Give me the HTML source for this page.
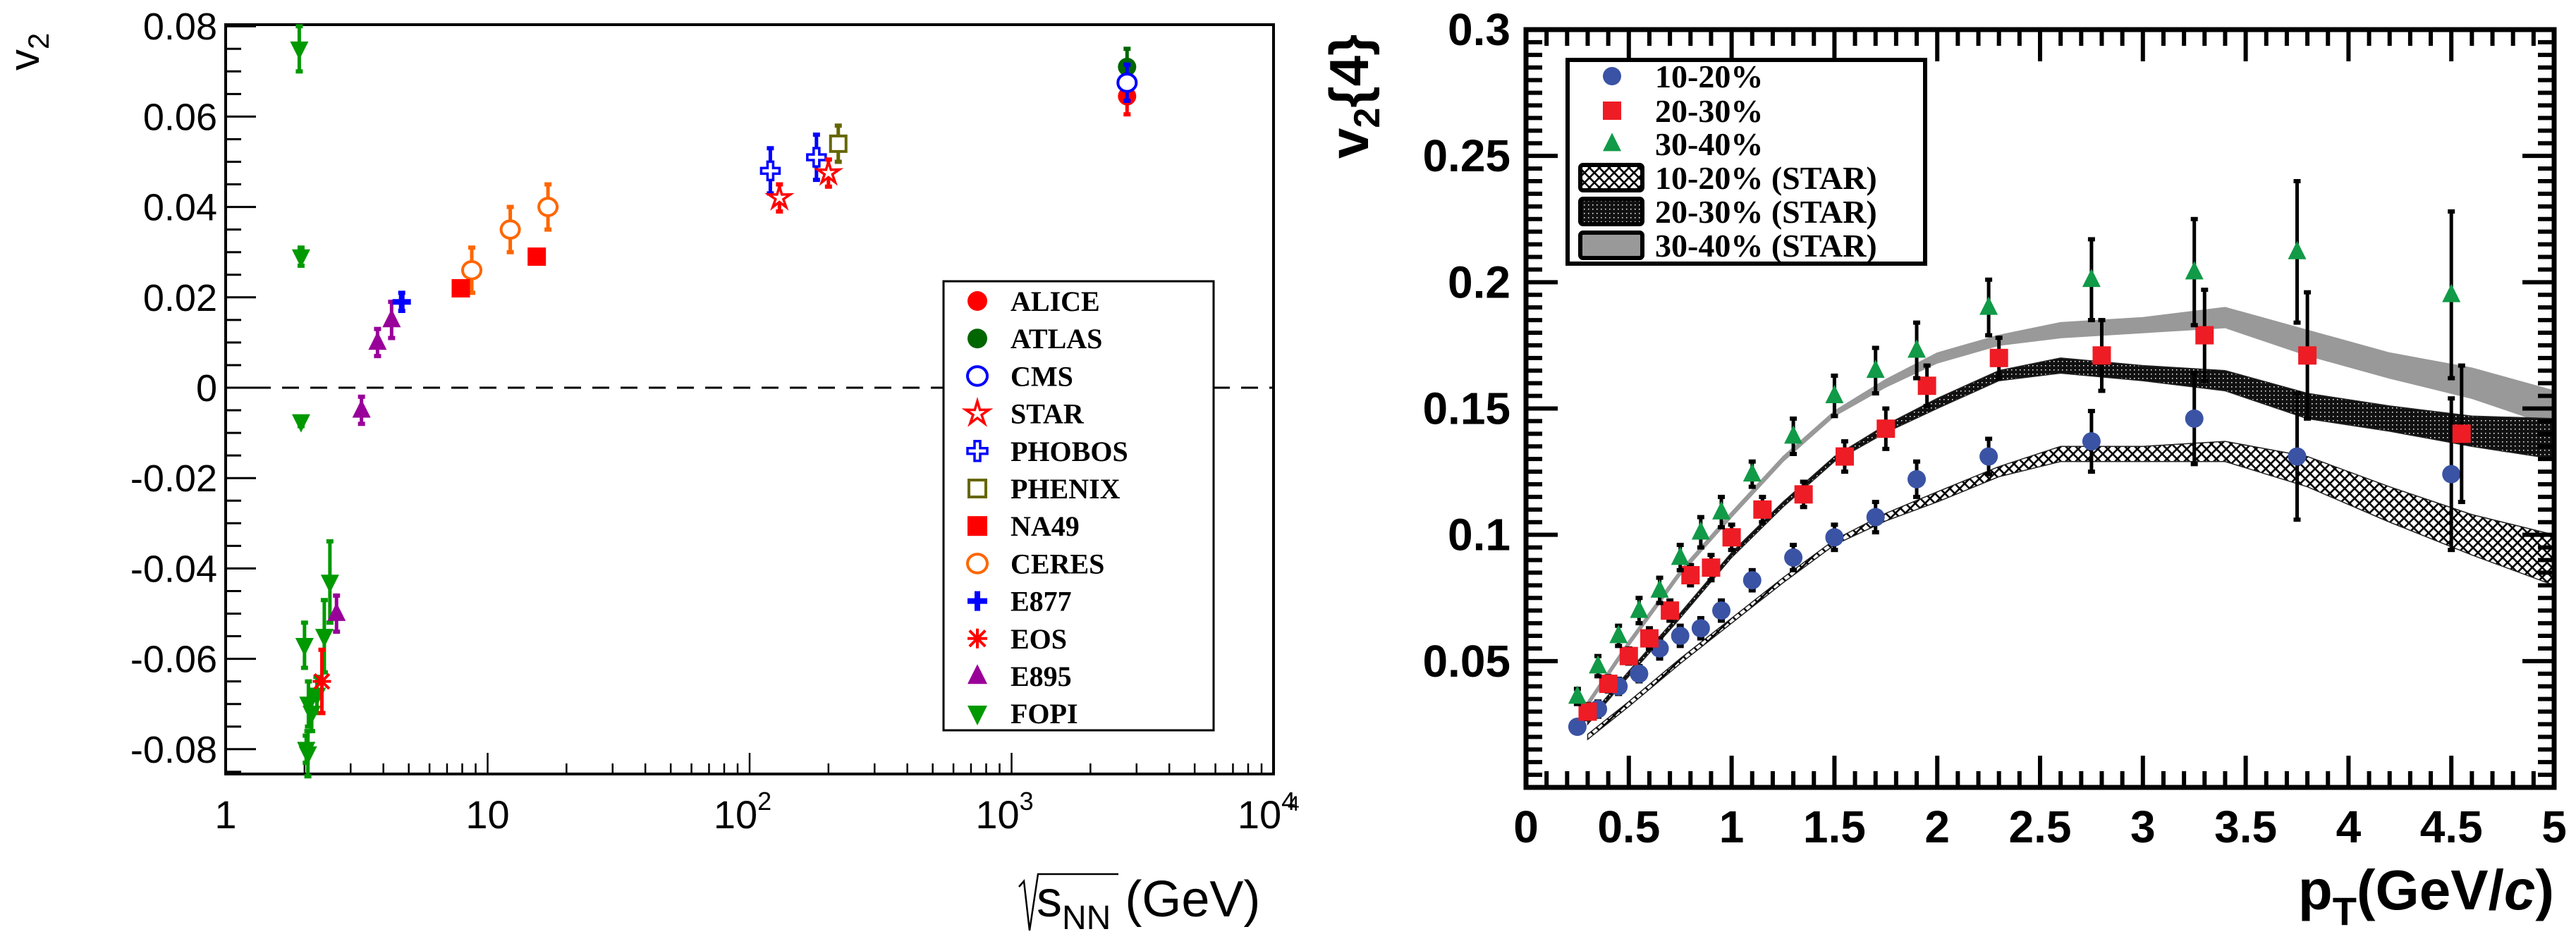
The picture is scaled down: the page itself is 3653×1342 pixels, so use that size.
<!DOCTYPE html>
<html><head><meta charset="utf-8">
<style>
html,body{margin:0;padding:0;background:#fff;}
svg{display:block;}
text{font-family:"Liberation Sans",sans-serif;}
.serif{font-family:"Liberation Serif",serif;font-weight:bold;}
</style></head>
<body>
<svg id="svg" width="3653" height="1342" viewBox="0 0 3653 1342" xmlns="http://www.w3.org/2000/svg">
<defs>
<pattern id="hatchA" width="14" height="14" patternUnits="userSpaceOnUse">
<path d="M0 0 L14 14 M14 0 L0 14" stroke="#000" stroke-width="2.6"/>
</pattern>
<pattern id="hatchB" width="6" height="6" patternUnits="userSpaceOnUse">
<rect width="6" height="6" fill="#111"/><rect x="2" y="2" width="1.5" height="1.5" fill="#fff"/>
</pattern>
</defs>
<g id="left"></g>
<g id="right"></g>
</svg>
<script>
// ---------- Left chart data ----------
const aliceX=[2760], aliceY=[0.0645], aliceE=[0.004];
const atlasX=[2760], atlasY=[0.071], atlasE=[0.004];
const cmsX=[2760], cmsY=[0.0675], cmsE=[0.004];
const starX=[130,200], starY=[0.042,0.0475], starE=[0.003,0.003];
const phobosX=[120,180], phobosY=[0.048,0.051], phobosE=[0.005,0.005];
const phenixX=[218], phenixY=[0.054], phenixE=[0.004];
const na49X=[7.9,15.4], na49Y=[0.022,0.029], na49E=[0.001,0.001];
const ceresX=[8.7,12.2,17.0], ceresY=[0.026,0.035,0.040], ceresE=[0.005,0.005,0.005];
const e877X=[4.7], e877Y=[0.019], e877E=[0.002];
const eosX=[2.33], eosY=[-0.065], eosE=[0.007];
const e895X=[3.8,4.3,3.3,2.65], e895Y=[0.010,0.015,-0.005,-0.050], e895E=[0.003,0.004,0.003,0.004];
const fopiX=[1.91,1.94,1.94,2.0,2.07,2.13,2.23,2.38,2.5,2.06,2.03], fopiY=[0.075,0.029,-0.0075,-0.057,-0.07,-0.072,-0.068,-0.055,-0.043,-0.081,-0.08], fopiE=[0.005,0.002,0.001,0.005,0.005,0.004,0.004,0.008,0.009,0.005,0.003];
const leftYTicks=[0.08,0.06,0.04,0.02,0,-0.02,-0.04,-0.06,-0.08];
const leftYLabels=["0.08","0.06","0.04","0.02","0","-0.02","-0.04","-0.06","-0.08"];
const leftXDecades=[0,1,2,3,4];

// ---------- Right chart data ----------
const c1X=[0.25,0.35,0.45,0.55,0.65,0.75,0.85,0.95,1.1,1.3,1.5,1.7,1.9,2.25,2.75,3.25,3.75,4.5];
const c1Y=[0.024,0.031,0.040,0.045,0.055,0.060,0.063,0.070,0.082,0.091,0.099,0.107,0.122,0.131,0.137,0.146,0.131,0.124];
const c1E=[0.002,0.003,0.003,0.003,0.004,0.004,0.004,0.004,0.004,0.005,0.005,0.006,0.007,0.007,0.012,0.018,0.025,0.030];
const c2X=[0.3,0.4,0.5,0.6,0.7,0.8,0.9,1.0,1.15,1.35,1.55,1.75,1.95,2.3,2.8,3.3,3.8,4.55];
const c2Y=[0.030,0.041,0.052,0.059,0.070,0.084,0.087,0.099,0.110,0.116,0.131,0.142,0.159,0.170,0.171,0.179,0.171,0.140];
const c2E=[0.003,0.003,0.003,0.004,0.004,0.004,0.005,0.005,0.005,0.005,0.006,0.008,0.008,0.008,0.014,0.018,0.025,0.027];
const c3X=[0.25,0.35,0.45,0.55,0.65,0.75,0.85,0.95,1.1,1.3,1.5,1.7,1.9,2.25,2.75,3.25,3.75,4.5];
const c3Y=[0.036,0.048,0.060,0.070,0.078,0.091,0.101,0.109,0.124,0.139,0.155,0.165,0.173,0.190,0.201,0.204,0.212,0.195];
const c3E=[0.003,0.004,0.004,0.005,0.005,0.005,0.006,0.006,0.005,0.007,0.008,0.009,0.011,0.011,0.016,0.021,0.028,0.033];
const bandX=[0.3,0.5,0.75,1.0,1.25,1.5,1.75,2.0,2.3,2.6,3.0,3.4,3.8,4.2,4.6,5.0];
const band3Y=[0.033,0.057,0.085,0.108,0.130,0.148,0.160,0.170,0.177,0.181,0.183,0.186,0.176,0.167,0.160,0.150];
const band3W=[0.001,0.001,0.001,0.001,0.001,0.001,0.0015,0.002,0.002,0.003,0.003,0.004,0.005,0.005,0.006,0.007];
const band2Y=[0.026,0.045,0.068,0.092,0.112,0.130,0.142,0.152,0.163,0.167,0.164,0.161,0.151,0.146,0.141,0.138];
const band2W=[0.001,0.001,0.001,0.001,0.001,0.001,0.0015,0.002,0.002,0.003,0.003,0.004,0.005,0.005,0.006,0.008];
const band1Y=[0.020,0.033,0.050,0.066,0.082,0.097,0.107,0.115,0.125,0.132,0.132,0.133,0.125,0.112,0.100,0.090];
const band1W=[0.001,0.001,0.001,0.001,0.001,0.001,0.0015,0.002,0.002,0.003,0.003,0.004,0.006,0.007,0.008,0.010];
const rightYTicks=[0.05,0.1,0.15,0.2,0.25,0.3];
const rightYLabels=["0.05","0.1","0.15","0.2","0.25","0.3"];
const rightXTicks=[0,0.5,1,1.5,2,2.5,3,3.5,4,4.5,5];
const rightXLabels=["0","0.5","1","1.5","2","2.5","3","3.5","4","4.5","5"];

const NS="http://www.w3.org/2000/svg";
function mk(parent,tag,attrs,txt){const e=document.createElementNS(NS,tag);for(const k in attrs)e.setAttribute(k,attrs[k]);if(txt!==undefined)e.textContent=txt;parent.appendChild(e);return e;}

// ---------- LEFT ----------
const L=document.getElementById('left');
const LX0=320,LX1=1806,LY0=35,LY1=1098;
const lx=v=>LX0+Math.log10(v)*(LX1-LX0)/4;
const ly=v=>550-6410*v;
// zero dashed line
let zl=mk(L,'line',{x1:LX0,x2:LX1,y1:ly(0),y2:ly(0),stroke:'#000','stroke-width':3,'stroke-dasharray':'24,16'});


// frame
let lf=mk(L,'rect',{x:LX0,y:LY0,width:LX1-LX0,height:LY1-LY0,fill:'none',stroke:'#000','stroke-width':4});


// y ticks
for(let v=-0.085;v<=0.0801;v+=0.005){const vv=Math.round(v*1000)/1000;const major=Math.abs(Math.round(vv*100)%2)===0&&Math.abs(vv*100-Math.round(vv*100))<1e-6;
 mk(L,'line',{x1:LX0,x2:LX0+(major?43:22),y1:ly(vv),y2:ly(vv),stroke:'#000','stroke-width':3});}
leftYTicks.forEach((v,i)=>{let t=mk(L,'text',{x:308,y:ly(v)+19,'text-anchor':'end','font-size':54,transform:''},leftYLabels[i]);
 
 });
// x ticks
leftXDecades.forEach(d=>{ if(d<4) for(let m=1;m<10;m++){const v=Math.pow(10,d)*m;const x=lx(v);mk(L,'line',{x1:x,x2:x,y1:LY1,y2:LY1-(m===1?30:15),stroke:'#000','stroke-width':2.5});}});
const xl=[["1",""],["10",""],["10","2"],["10","3"],["10","4"]];
leftXDecades.forEach((d,i)=>{let t=mk(L,'text',{x:lx(Math.pow(10,d))-(xl[i][1]?10:0),y:1175,'text-anchor':'middle','font-size':56});
 
 
 t.textContent=xl[i][0]; if(xl[i][1]){mk(t,'tspan',{dy:-26,'font-size':36},xl[i][1]);}});
let ytl=mk(L,'text',{x:0,y:0,'font-size':60,transform:'translate(55,100) rotate(-90)'},'v');
mk(ytl,'tspan',{dy:14,'font-size':42},'2');


let xtl=mk(L,'text',{x:1470,y:1300,'font-size':72},'s');
mk(xtl,'tspan',{dy:18,'font-size':48},'NN');
mk(xtl,'tspan',{dy:-18,'font-size':72},' (GeV)');


mk(L,'path',{d:'M1445 1258 L1452 1250 L1460 1320 L1472 1240 L1586 1240',fill:'none',stroke:'#000','stroke-width':2.5});

function marker(g,type,x,y,color,s){
 s=s||13;
 switch(type){
 case 'circle':return mk(g,'ellipse',{cx:x,cy:y,rx:s,ry:s,fill:color});
 case 'ocircle':return mk(g,'ellipse',{cx:x,cy:y,rx:s,ry:s*0.95,fill:'#fff',stroke:color,'stroke-width':4});
 case 'square':return mk(g,'rect',{x:x-s,y:y-s,width:2*s,height:2*s,fill:color});
 case 'osquare':return mk(g,'rect',{x:x-s+2,y:y-s+2,width:2*s-4,height:2*s-4,fill:'#fff',stroke:color,'stroke-width':4});
 case 'tri':return mk(g,'polygon',{points:`${x},${y-s*1.2} ${x-s},${y+s*0.8} ${x+s},${y+s*0.8}`,fill:color});
 case 'dtri':return mk(g,'polygon',{points:`${x},${y+s*1.2} ${x-s},${y-s*0.8} ${x+s},${y-s*0.8}`,fill:color});
 case 'cross':return mk(g,'path',{d:`M${x-s} ${y-4}h${s-4}v-${s-4}h8v${s-4}h${s-4}v8h-${s-4}v${s-4}h-8v-${s-4}h-${s-4}z`,fill:color});
 case 'ocross':return mk(g,'path',{d:`M${x-s} ${y-4}h${s-4}v-${s-4}h8v${s-4}h${s-4}v8h-${s-4}v${s-4}h-8v-${s-4}h-${s-4}z`,fill:'#fff',stroke:color,'stroke-width':3.5});
 case 'star':{let p=[];for(let k=0;k<10;k++){const r=k%2?s*0.45:s*1.25;const a=-Math.PI/2+k*Math.PI/5;p.push((x+r*Math.cos(a)).toFixed(1)+','+(y+r*Math.sin(a)).toFixed(1));}
   return mk(g,'polygon',{points:p.join(' '),fill:'#fff',stroke:color,'stroke-width':3.5});}
 case 'aster':return mk(g,'path',{d:`M${x-s} ${y}h${2*s}M${x} ${y-s}v${2*s}M${x-s*0.8} ${y-s*0.8}L${x+s*0.8} ${y+s*0.8}M${x+s*0.8} ${y-s*0.8}L${x-s*0.8} ${y+s*0.8}`,stroke:color,'stroke-width':4,fill:'none'});
 }
}
function series(g,name,X,Y,E,fx,fy,type,color,ecolor,s,capw){
 const sg=mk(g,'g',{});
 
 
 X.forEach((xv,i)=>{const x=fx(xv),y=fy(Y[i]),y1=fy(Y[i]+E[i]),y2=fy(Y[i]-E[i]);
  mk(sg,'line',{x1:x,x2:x,y1:y1,y2:y2,stroke:ecolor,'stroke-width':5});
  mk(sg,'line',{x1:x-capw,x2:x+capw,y1:y1,y2:y1,stroke:ecolor,'stroke-width':6});
  mk(sg,'line',{x1:x-capw,x2:x+capw,y1:y2,y2:y2,stroke:ecolor,'stroke-width':6});
  marker(sg,type,x,y,color,s);});
}
const LS=[
 ['fopi','FOPI',fopiX,fopiY,fopiE,'dtri','#009900'],
 ['e895','E895',e895X,e895Y,e895E,'tri','#990099'],
 ['eos','EOS',eosX,eosY,eosE,'aster','#ff0000'],
 ['e877','E877',e877X,e877Y,e877E,'cross','#0000ff'],
 ['ceres','CERES',ceresX,ceresY,ceresE,'ocircle','#ff6600'],
 ['na49','NA49',na49X,na49Y,na49E,'square','#ff0000'],
 ['phenix','PHENIX',phenixX,phenixY,phenixE,'osquare','#666600'],
 ['phobos','PHOBOS',phobosX,phobosY,phobosE,'ocross','#0000ff'],
 ['star','STAR',starX,starY,starE,'star','#ff0000'],
 ['atlas','ATLAS',atlasX,atlasY,atlasE,'circle','#006600'],
 ['alice','ALICE',aliceX,aliceY,aliceE,'circle','#ff0000'],
 ['cms','CMS',cmsX,cmsY,cmsE,'ocircle','#0000ff'],
];
LS.forEach(r=>series(L,r[0]+'-series',r[2],r[3],r[4],lx,ly,r[5],r[6],r[6],13,5));
// left legend
const LL=mk(L,'g',{});


mk(LL,'rect',{x:1338,y:399,width:383,height:637,fill:'#fff',stroke:'#000','stroke-width':3});
const legOrder=['alice','atlas','cms','star','phobos','phenix','na49','ceres','e877','eos','e895','fopi'];
legOrder.forEach((k,i)=>{const r=LS.find(a=>a[0]===k);const y=427+i*53.2;
 const eg=mk(LL,'g',{});
 
 
 marker(eg,r[5],1386,y,r[6],14);
 mk(eg,'text',{x:1433,y:y+14,'font-size':40,class:'serif'},r[1]);});

// ---------- RIGHT ----------
const R=document.getElementById('right');
const RX0=2164,RX1=3622,RY0=42,RY1=1117;
const rx=v=>RX0+v*(RX1-RX0)/5;
const ry=v=>RY1-v*(RY1-RY0)/0.3;
function band(name,Y,W,fill,stroke){
 let d='M'+bandX.map((x,i)=>rx(x)+' '+ry(Y[i]+W[i])).join(' L')+' L'+bandX.slice().reverse().map((x,j)=>{const i=bandX.length-1-j;return rx(x)+' '+ry(Y[i]-W[i]);}).join(' L')+'Z';
 let p=mk(R,'path',{d:d,fill:fill,stroke:stroke,'stroke-width':1.5});
 
 
}
band('band-30-40-star',band3Y,band3W,'#999999','#999999');
band('band-20-30-star',band2Y,band2W,'url(#hatchB)','#222');
band('band-10-20-star',band1Y,band1W,'url(#hatchA)','#222');
let rf=mk(R,'rect',{x:RX0,y:RY0,width:RX1-RX0,height:RY1-RY0,fill:'none',stroke:'#000','stroke-width':7});


for(let k=0;k<=60;k++){const v=k*0.005;const major=k%10===0;const y=ry(v);
 mk(R,'line',{x1:RX0,x2:RX0+(major?45:23),y1:y,y2:y,stroke:'#000','stroke-width':6});
 mk(R,'line',{x1:RX1,x2:RX1-(major?45:23),y1:y,y2:y,stroke:'#000','stroke-width':6});}
for(let k=0;k<=50;k++){const v=k*0.1;const major=k%5===0;const x=rx(v);
 mk(R,'line',{x1:x,x2:x,y1:RY1,y2:RY1-(major?45:23),stroke:'#000','stroke-width':6});
 mk(R,'line',{x1:x,x2:x,y1:RY0,y2:RY0+(major?45:23),stroke:'#000','stroke-width':6});}
rightYTicks.forEach((v,i)=>{let t=mk(R,'text',{x:2142,y:ry(v)+22,'text-anchor':'end','font-size':64,'font-weight':'bold'},rightYLabels[i]);
 
 });
rightXTicks.forEach((v,i)=>{let t=mk(R,'text',{x:rx(v),y:1195,'text-anchor':'middle','font-size':64,'font-weight':'bold'},rightXLabels[i]);
 
 });
let rxt=mk(R,'text',{x:3622,y:1290,'text-anchor':'end','font-size':80,'font-weight':'bold'},'p');
mk(rxt,'tspan',{dy:22,'font-size':56},'T');
mk(rxt,'tspan',{dy:-22},'(GeV/');
mk(rxt,'tspan',{'font-style':'italic'},'c');
mk(rxt,'tspan',{},')');


let ryt=mk(R,'text',{x:0,y:0,'font-size':78,'font-weight':'bold',transform:'translate(1940,225) rotate(-90)'},'v');
mk(ryt,'tspan',{dy:16,'font-size':52},'2');
mk(ryt,'tspan',{dy:-16},'{4}');


let st=mk(R,'text',{x:1826,y:1150,'font-size':30,'font-family':'Liberation Serif'},'4');


series(R,'series-10-20',c1X,c1Y,c1E,rx,ry,'circle','#3a53a4','#000',13,5);
series(R,'series-20-30',c2X,c2Y,c2E,rx,ry,'square','#ee1c25','#000',13,5);
series(R,'series-30-40',c3X,c3Y,c3E,rx,ry,'tri','#119a48','#000',13,5);
// right legend
const RL=mk(R,'g',{});


mk(RL,'rect',{x:2223,y:85,width:507,height:289,fill:'#fff',stroke:'#000','stroke-width':6});
const rlab=['10-20%','20-30%','30-40%','10-20% (STAR)','20-30% (STAR)','30-40% (STAR)'];
const rly=[108,157,204,252,300,348];
const rlt=['circle','square','tri'];const rlc=['#3a53a4','#ee1c25','#119a48'];
const sw=['url(#hatchA)','url(#hatchB)','#999999'];
rlab.forEach((s,i)=>{const eg=mk(RL,'g',{});
 
 
 if(i<3) marker(eg,rlt[i],2286,rly[i],rlc[i],13);
 else mk(eg,'rect',{x:2241,y:rly[i]-18,width:88,height:36,rx:4,fill:sw[i-3],stroke:'#000','stroke-width':6});
 mk(eg,'text',{x:2347,y:rly[i]+16,'font-size':46,class:'serif'},s);});
</script>
</body></html>
